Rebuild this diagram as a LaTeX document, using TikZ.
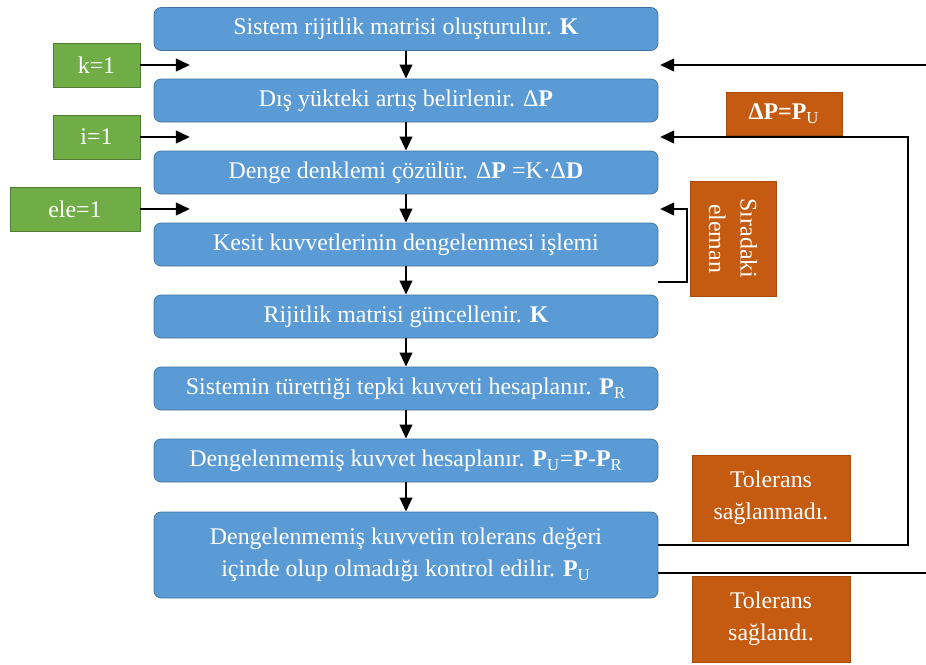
\documentclass[tikz,border=0pt]{standalone}
\usepackage{fontspec}
\setmainfont{Liberation Serif}
\usetikzlibrary{arrows.meta,positioning}
\definecolor{stepblue}{HTML}{5B9BD5}
\definecolor{stepblueEdge}{HTML}{41719C}
\definecolor{initgreen}{HTML}{70AD47}
\definecolor{initgreenEdge}{HTML}{507E32}
\definecolor{noteorange}{HTML}{C55A11}
\definecolor{noteorangeEdge}{HTML}{A84C0E}
\begin{document}
\begin{tikzpicture}[x=0.02cm,y=-0.02cm,every node/.style={font=\fontsize{13.6}{18}\selectfont,text=white,align=center,inner sep=0pt},stepbox/.style={rectangle,rounded corners=4pt,draw=stepblueEdge,fill=stepblue,minimum width=10.08cm,minimum height=0.86cm},initbox/.style={rectangle,draw=initgreenEdge,fill=initgreen,minimum height=0.88cm},notebox/.style={rectangle,draw=noteorangeEdge,fill=noteorange},arr/.style={-{Triangle[length=8pt,width=7pt]},line width=1.6pt}]
\useasboundingbox (0,0) rectangle (926,664);
% main steps
\node[stepbox] (b1) at (406,29) {Sistem rijitlik matrisi oluşturulur. \textbf{K}};
\node[stepbox] (b2) at (406,100.5) {Dış yükteki artış belirlenir. Δ\textbf{P}};
\node[stepbox] (b3) at (406,172.5) {Denge denklemi çözülür. Δ\textbf{P} =K·Δ\textbf{D}};
\node[stepbox] (b4) at (406,244.5) {Kesit kuvvetlerinin dengelenmesi işlemi};
\node[stepbox] (b5) at (406,316.5) {Rijitlik matrisi güncellenir. \textbf{K}};
\node[stepbox] (b6) at (406,388.5) {Sistemin türettiği tepki kuvveti hesaplanır. \textbf{P}\textsubscript{R}};
\node[stepbox] (b7) at (406,460.5) {Dengelenmemiş kuvvet hesaplanır. \textbf{P}\textsubscript{U}=\textbf{P}-\textbf{P}\textsubscript{R}};
\node[stepbox,minimum height=1.72cm] (b8) at (406,555) {Dengelenmemiş kuvvetin tolerans değeri\\içinde olup olmadığı kontrol edilir. \textbf{P}\textsubscript{U}};
\draw[arr] (b1) -- (b2);
\draw[arr] (b2) -- (b3);
\draw[arr] (b3) -- (b4);
\draw[arr] (b4) -- (b5);
\draw[arr] (b5) -- (b6);
\draw[arr] (b6) -- (b7);
\draw[arr] (b7) -- (b8);
% counters
\node[initbox,minimum width=1.74cm] (k) at (96.5,65) {k=1};
\node[initbox,minimum width=1.74cm] (i) at (96.5,137) {i=1};
\node[initbox,minimum width=2.6cm] (ele) at (75,209) {ele=1};
\coordinate (kin) at (190,65);
\coordinate (iin) at (190,137);
\coordinate (elein) at (190,209);
\draw[arr] (k) -- (kin);
\draw[arr] (i) -- (iin);
\draw[arr] (ele) -- (elein);
% notes
\node[notebox,minimum width=2.32cm,minimum height=0.86cm] (dp) at (784,113.5) {\textbf{ΔP=P}\textsubscript{U}};
\node[notebox,rotate=-90,minimum width=2.3cm,minimum height=1.72cm] (next) at (733,238.5) {Sıradaki\\eleman};
\node[notebox,minimum width=3.16cm,minimum height=1.72cm] (fail) at (771,498) {Tolerans\\sağlanmadı.};
\node[notebox,minimum width=3.16cm,minimum height=1.72cm] (ok) at (771,619) {Tolerans\\sağlandı.};
% loops
\coordinate (r1) at (926,65);
\coordinate (l1) at (660,65);
\draw[arr] (r1) -- (l1);
\coordinate (l2) at (660,137);
\coordinate (ret) at (908,545);
\draw[arr] (b8.east |- ret) -- (ret) |- (l2);
\coordinate (s0) at (658,282);
\coordinate (s1) at (687,209);
\coordinate (l3) at (660,209);
\draw[arr] (s0) -| (s1) -- (l3);
\coordinate (done) at (926,573);
\draw[line width=1.6pt] (b8.east |- done) -- (done);
\end{tikzpicture}
\end{document}
